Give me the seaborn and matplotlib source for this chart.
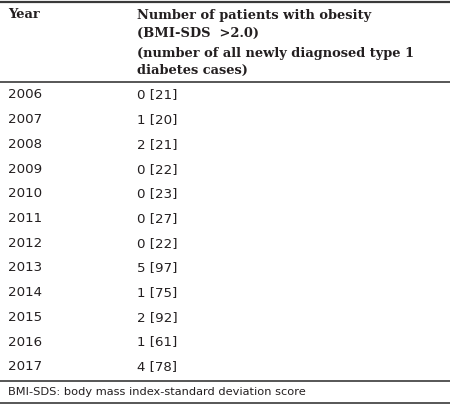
import matplotlib
matplotlib.use("Agg")
import matplotlib.pyplot as plt
import seaborn as sns
import pandas as pd

years = [2006, 2007, 2008, 2009, 2010, 2011, 2012, 2013, 2014, 2015, 2016, 2017]
obese = [0, 1, 2, 0, 0, 0, 0, 5, 1, 2, 1, 4]
total = [21, 20, 21, 22, 23, 27, 22, 97, 75, 92, 61, 78]
header_year = "Year"
header_value = ["Number of patients with obesity",
                "(BMI-SDS  >2.0)",
                "(number of all newly diagnosed type 1",
                "diabetes cases)"]
footnote = "BMI-SDS: body mass index-standard deviation score"

df = pd.DataFrame({"Year": years, "Obese": obese, "Total": total})
df["Label"] = [f"{o} [{t}]" for o, t in zip(df["Obese"], df["Total"])]

sns.set_theme(style="white")
plt.rcParams["font.family"] = ["DejaVu Sans"]

W, H = 450, 405
fig = plt.figure(figsize=(W / 100, H / 100), dpi=100)
ax = fig.add_axes([0, 0, 1, 1])
ax.set_xlim(0, W)
ax.set_ylim(H, 0)
ax.axis("off")

txt = "#231f20"
line_c = "#3a3a3a"
hfont = dict(family="DejaVu Serif", weight="bold", size=9.4)
bfont = dict(family="DejaVu Sans", size=9.6)

x1, x2 = 8, 137
# rules
ax.axhline(1.5, color=line_c, lw=1.6)
ax.axhline(81.5, color=line_c, lw=1.2)
ax.axhline(380.5, color=line_c, lw=1.2)
ax.axhline(402.5, color=line_c, lw=1.2)

# header
ax.text(x1, 15, header_year, color=txt, va="center", ha="left", **hfont)
for y, s in zip([15, 33, 53, 70], header_value):
    ax.text(x2, y, s, color=txt, va="center", ha="left", **hfont)

# rows
y0, dy = 95, 24.7
for i, row in df.iterrows():
    y = y0 + i * dy
    ax.text(x1, y, str(row["Year"]), color=txt, va="center", ha="left", **bfont)
    ax.text(x2, y, row["Label"], color=txt, va="center", ha="left", **bfont)

ax.text(x1, 392, footnote, color=txt, va="center", ha="left",
        family="DejaVu Sans", size=8.2)

fig.savefig("out.png", dpi=100, facecolor="white")
